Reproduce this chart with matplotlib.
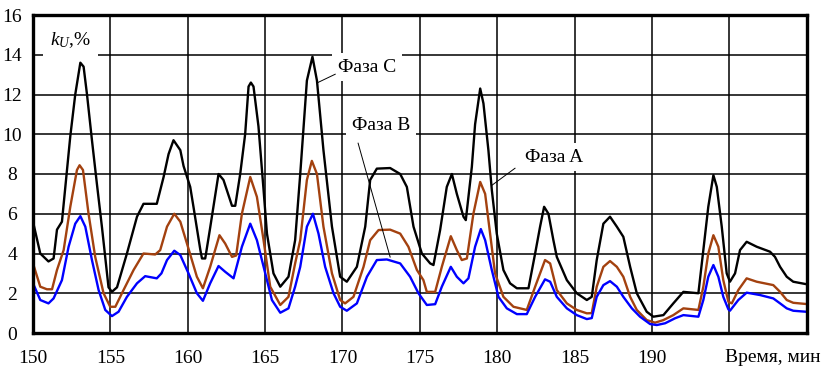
import matplotlib
matplotlib.use("Agg")
import matplotlib.pyplot as plt
from matplotlib import font_manager

# Time, min / voltage unbalance factor k_U, % for each phase
t_c = [150.0, 150.47, 151.0, 151.33, 151.55, 151.87, 152.41, 152.73, 153.06, 153.27,
       153.49, 153.81, 154.13, 154.46, 154.88, 155.1, 155.43, 156.07, 156.72, 157.14,
       158.0, 158.44, 158.76, 159.08, 159.52, 159.73, 160.16, 160.37, 160.81, 160.92,
       161.13, 161.45, 161.99, 162.31, 162.86, 163.07, 163.39, 163.71, 163.93, 164.08,
       164.25, 164.57, 164.9, 165.12, 165.54, 165.98, 166.51, 166.94, 167.27, 167.7,
       168.06, 168.35, 168.77, 169.32, 169.85, 170.28, 170.93, 171.47, 171.79, 172.22,
       173.08, 173.73, 174.16, 174.59, 175.13, 175.67, 175.88, 176.31, 176.74, 177.07,
       177.39, 177.82, 177.97, 178.36, 178.57, 178.9, 179.11, 179.43, 179.65, 179.97,
       180.4, 180.83, 181.27, 182.02, 182.45, 182.77, 183.03, 183.31, 183.63, 183.85,
       184.5, 185.14, 185.79, 186.11, 186.43, 186.86, 187.29, 187.73, 188.15, 188.59,
       189.02, 189.66, 190.09, 190.74, 191.38, 192.03, 193.0, 193.32, 193.64, 193.97,
       194.19, 194.51, 194.83, 195.04, 195.37, 195.69, 196.12, 196.77, 197.63, 197.95,
       198.28, 198.71, 199.13, 199.95]
k_c = [5.6, 4.0, 3.6, 3.75, 5.2, 5.6, 9.9, 12.0, 13.6, 13.4,
       12.0, 9.7, 7.5, 5.3, 2.3, 2.07, 2.3, 4.0, 5.85, 6.5,
       6.5, 7.85, 9.0, 9.7, 9.2, 8.4, 7.35, 6.35, 4.2, 3.75,
       3.75, 5.3, 8.0, 7.7, 6.4, 6.4, 8.0, 10.0, 12.4, 12.6,
       12.4, 10.4, 7.2, 5.0, 3.0, 2.33, 2.83, 4.67, 8.0, 12.7,
       13.9, 12.7, 9.2, 5.35, 2.83, 2.58, 3.33, 5.35, 7.7, 8.27,
       8.3, 8.0, 7.35, 5.35, 4.0, 3.5, 3.42, 5.18, 7.35, 8.0,
       7.0, 5.85, 5.68, 8.36, 10.5, 12.3, 11.55, 9.2, 7.2, 5.0,
       3.17, 2.5, 2.25, 2.25, 4.0, 5.35, 6.35, 6.0, 4.67, 3.83,
       2.66, 2.0, 1.66, 1.82, 3.67, 5.5, 5.85, 5.35, 4.84, 3.33,
       2.0, 1.07, 0.82, 0.9, 1.49, 2.07, 2.0, 4.17, 6.35, 7.94,
       7.35, 5.35, 3.0, 2.58, 3.0, 4.17, 4.59, 4.34, 4.09, 3.83,
       3.33, 2.83, 2.58, 2.46]

t_a = [150.0, 150.47, 150.9, 151.23, 151.55, 151.98, 152.41, 152.84, 153.01, 153.23,
       153.59, 154.02, 154.56, 154.99, 155.32, 155.85, 156.5, 157.14, 157.9, 158.22,
       158.66, 159.13, 159.52, 159.95, 160.59, 160.98, 161.45, 162.05, 162.42, 162.86,
       163.13, 163.5, 164.04, 164.47, 164.9, 165.33, 165.98, 166.51, 166.94, 167.27,
       167.7, 168.02, 168.35, 168.77, 169.32, 169.85, 170.17, 170.71, 171.36, 171.79,
       172.33, 173.08, 173.73, 174.26, 174.81, 175.23, 175.45, 175.99, 176.42, 177.0,
       177.39, 177.71, 178.04, 178.46, 178.9, 179.22, 179.54, 179.86, 180.4, 181.05,
       181.91, 182.45, 183.09, 183.42, 183.85, 184.5, 185.14, 185.79, 186.11, 186.43,
       186.86, 187.29, 187.73, 188.15, 188.59, 189.02, 189.66, 190.2, 190.74, 191.38,
       192.03, 193.0, 193.32, 193.64, 193.97, 194.29, 194.61, 194.94, 195.16, 195.58,
       196.12, 196.77, 197.84, 198.28, 198.71, 199.13, 199.95]
k_a = [3.5, 2.33, 2.2, 2.2, 3.17, 4.17, 6.35, 8.2, 8.44, 8.2,
       6.0, 3.83, 2.0, 1.32, 1.32, 2.16, 3.17, 4.0, 3.95, 4.17,
       5.35, 6.0, 5.6, 4.5, 2.83, 2.25, 3.33, 4.92, 4.5, 3.83,
       3.9, 6.0, 7.85, 6.85, 4.67, 2.33, 1.41, 1.82, 3.5, 4.67,
       7.7, 8.66, 8.0, 5.35, 3.0, 1.66, 1.49, 1.82, 3.33, 4.67,
       5.18, 5.2, 5.0, 4.34, 3.17, 2.66, 2.07, 2.07, 3.33, 4.87,
       4.17, 3.67, 3.75, 6.0, 7.6, 7.0, 5.0, 3.0, 1.82, 1.32,
       1.16, 2.33, 3.67, 3.5, 2.16, 1.49, 1.16, 0.99, 1.0, 2.33,
       3.33, 3.62, 3.33, 2.83, 1.82, 1.16, 0.65, 0.52, 0.65, 0.9,
       1.24, 1.16, 2.33, 4.0, 4.92, 4.34, 2.66, 1.57, 1.49, 2.16,
       2.75, 2.58, 2.41, 2.07, 1.66, 1.52, 1.46]

t_b = [150.0, 150.47, 151.0, 151.33, 151.87, 152.3, 152.73, 153.06, 153.38, 153.81,
       154.24, 154.67, 155.1, 155.53, 156.07, 156.72, 157.25, 158.0, 158.3, 158.66,
       159.13, 159.52, 160.05, 160.59, 160.98, 161.45, 161.99, 162.42, 162.96, 163.5,
       164.04, 164.47, 165.01, 165.44, 165.98, 166.51, 166.94, 167.27, 167.7, 168.09,
       168.45, 168.88, 169.42, 169.85, 170.28, 170.93, 171.58, 172.22, 172.87, 173.73,
       174.37, 174.91, 175.45, 175.99, 176.42, 177.0, 177.39, 177.82, 178.14, 178.57,
       178.94, 179.22, 179.65, 180.08, 180.62, 181.27, 181.91, 182.45, 183.09, 183.42,
       183.85, 184.5, 185.14, 185.79, 186.11, 186.43, 186.86, 187.29, 187.73, 188.15,
       188.7, 189.23, 189.88, 190.31, 190.85, 191.49, 192.03, 193.0, 193.32, 193.64,
       193.97, 194.29, 194.61, 194.94, 195.04, 195.58, 196.12, 196.98, 197.84, 198.28,
       198.71, 199.13, 199.95]
k_b = [2.5, 1.66, 1.49, 1.74, 2.66, 4.34, 5.5, 5.88, 5.35, 3.67,
       2.16, 1.16, 0.85, 1.07, 1.82, 2.5, 2.86, 2.75, 3.0, 3.67,
       4.14, 3.92, 3.0, 2.0, 1.62, 2.5, 3.37, 3.08, 2.75, 4.34,
       5.5, 4.67, 3.0, 1.66, 1.02, 1.24, 2.33, 3.33, 5.35, 6.0,
       5.0, 3.33, 2.0, 1.32, 1.12, 1.49, 2.83, 3.67, 3.7, 3.5,
       2.83, 2.0, 1.41, 1.45, 2.33, 3.33, 2.83, 2.5, 2.75, 4.34,
       5.23, 4.67, 3.17, 1.82, 1.24, 0.95, 0.95, 1.82, 2.7, 2.58,
       1.82, 1.24, 0.9, 0.7, 0.75, 1.82, 2.41, 2.61, 2.33, 1.82,
       1.24, 0.82, 0.45, 0.4, 0.49, 0.74, 0.9, 0.82, 1.66, 2.83,
       3.42, 2.83, 1.82, 1.19, 1.12, 1.66, 2.03, 1.91, 1.74, 1.49,
       1.24, 1.12, 1.07]

x_ticks = [150, 155, 160, 165, 170, 175, 180, 185, 190, 195, 200]
x_tick_labels = ["150", "155", "160", "165", "170", "175", "180", "185", "190", "", ""]
y_ticks = [0, 2, 4, 6, 8, 10, 12, 14, 16]

# pick a Times-like serif face
serif_faces = [f.name for f in font_manager.fontManager.ttflist]
serif_name = "Liberation Serif" if "Liberation Serif" in serif_faces else "DejaVu Serif"
plt.rcParams["font.family"] = "serif"
plt.rcParams["font.serif"] = [serif_name, "DejaVu Serif"]
plt.rcParams["mathtext.fontset"] = "custom"
plt.rcParams["mathtext.rm"] = serif_name
plt.rcParams["mathtext.it"] = serif_name + ":italic"

W, H = 822, 373
fig = plt.figure(figsize=(W / 100, H / 100), dpi=100)
ax = fig.add_axes([33 / W, 1 - 333 / H, (806.7 - 33) / W, (333 - 15) / H])

ax.plot(t_c, k_c, color="black", lw=1.7, zorder=3)
ax.plot(t_a, k_a, color="#A3410F", lw=1.7, zorder=3)
ax.plot(t_b, k_b, color="#0000FF", lw=1.7, zorder=4)

ax.set_xlim(150, 200)
ax.set_ylim(0, 16)
ax.set_xticks(x_ticks)
ax.set_xticklabels(x_tick_labels)
ax.set_yticks(y_ticks)
ax.grid(True, color="black", lw=1.1)
ax.set_axisbelow(True)
for s in ax.spines.values():
    s.set_linewidth(2.4)
    s.set_zorder(6)
ax.tick_params(axis="both", length=0, labelsize=14, colors="black")
ax.tick_params(axis="x", pad=12)
ax.tick_params(axis="y", pad=15)
for lab in ax.get_yticklabels():
    lab.set_horizontalalignment("center")

box = dict(facecolor="white", edgecolor="none", pad=4)
ax.text(152.41, 14.72, r"$k_U$,%", fontsize=14, ha="center", va="center",
        bbox=dict(facecolor="white", edgecolor="none", pad=5), zorder=5)
ax.text(171.57, 13.37, "Фаза C", fontsize=14, ha="center", va="center",
        bbox=box, zorder=5)
ax.text(172.47, 10.45, "Фаза B", fontsize=14, ha="center", va="center",
        bbox=box, zorder=5)
ax.text(183.68, 8.84, "Фаза A", fontsize=14, ha="center", va="center",
        bbox=box, zorder=5)

# leader lines from labels to the curves
ax.plot([168.43, 169.53], [12.61, 13.02], color="black", lw=0.7, zorder=5)
ax.plot([171.01, 173.08], [9.55, 3.82], color="black", lw=0.7, zorder=5)
ax.plot([181.15, 179.67], [8.29, 7.44], color="black", lw=0.7, zorder=5)

fig.text(820 / W, 1 - 358 / H, "Время, мин", fontsize=14, ha="right", va="center")

fig.savefig("out.png", dpi=100)
